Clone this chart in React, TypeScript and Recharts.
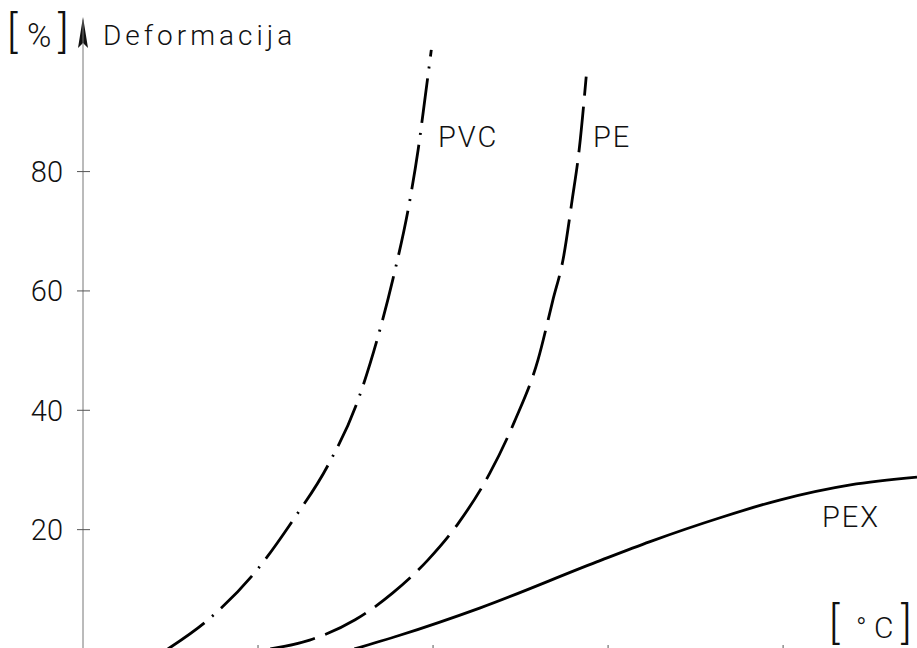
import React from 'react';
import {LineChart, Line, XAxis, YAxis, Customized} from 'recharts';

// deformation [%] vs temperature
const pvcTemp = [9.7, 14.3, 19.8, 24.0, 28.0, 31.3, 33.7, 35.4, 37.4, 38.3, 39.1, 39.8];
const pvcDeform = [0, 4.9, 13.1, 21.6, 30.8, 41.2, 52.3, 61.9, 75.6, 83.7, 92.5, 100.4];

const peTemp = [21.4, 25.9, 31.1, 35.4, 39.4, 42.9, 46.5, 49.3, 52.0, 53.7, 54.9, 55.9, 56.7, 57.5];
const peDeform = [0, 1.5, 4.9, 9.4, 14.9, 21.1, 29.5, 38.1, 48.5, 58.5, 65.6, 75.3, 83.7, 95.9];

const pexTemp = [31.0, 36.2, 45.4, 58.7, 64.8, 72.8, 79.7, 87.7, 95.3];
const pexDeform = [0, 2.3, 6.9, 14.6, 18.0, 22.0, 25.0, 27.5, 28.8];

const yTicks = [20, 40, 60, 80];
const xTicks = [20, 40, 60, 80];

const toPoints = (t: number[], d: number[]) => t.map((v, i) => ({t: v, d: d[i]}));

const FONT = 'Roboto, "DejaVu Sans", sans-serif';

const YTick = (props: any) => {
    const {x, y, payload} = props;
    return <g>
        <line x1={x - 6} x2={x + 7} y1={y} y2={y} stroke="#555" strokeWidth={1}/>
        <text x={x - 20} y={y} dy="0.36em" textAnchor="end" fontFamily={FONT} fontWeight={300}
              fontSize={29} fill="#111">{payload.value}</text>
    </g>;
};

const Overlay = () => {
    const txt = {fontFamily: FONT, fontWeight: 300, fill: '#111'} as const;
    return <g>
        <polygon points="83,17 88,48 83,43 78,48" fill="#111"/>
        <text y={47} {...txt}>
            <tspan x={7} fontSize={44}>[</tspan>
            <tspan x={27} fontSize={33}>%</tspan>
            <tspan x={58} fontSize={44}>]</tspan>
        </text>
        <text x={103} y={45} fontSize={28} letterSpacing={4} {...txt}>Deformacija</text>
        <text x={438} y={147} fontSize={29} letterSpacing={2} {...txt}>PVC</text>
        <text x={593} y={147} fontSize={29} letterSpacing={2} {...txt}>PE</text>
        <text x={822} y={527} fontSize={29} letterSpacing={2} {...txt}>PEX</text>
        <text y={638} {...txt}>
            <tspan x={829} fontSize={44}>[</tspan>
            <tspan x={856} fontSize={28}>°</tspan>
            <tspan x={874} fontSize={30}>C</tspan>
            <tspan x={901} fontSize={44}>]</tspan>
        </text>
    </g>;
};

export default function App() {
    return <div style={{position: 'absolute', left: 0, top: 0, width: 917, height: 648, overflow: 'hidden', background: '#fff'}}>
        <LineChart width={917} height={652} margin={{top: 20, right: 0, left: 0, bottom: 2}}>
            <XAxis type="number" dataKey="t" domain={[0, 95.3]} ticks={xTicks} allowDataOverflow
                   height={1} axisLine={false} tickSize={-4} tickFormatter={() => ''}
                   tickLine={{stroke: '#555'}}/>
            <YAxis type="number" dataKey="d" domain={[0, 105.4]} ticks={yTicks} allowDataOverflow
                   width={83} tickSize={0} tickMargin={0} tickLine={false} tick={YTick}
                   axisLine={{stroke: '#777', strokeWidth: 1}}/>
            <Line data={toPoints(pvcTemp, pvcDeform)} dataKey="d" type="monotone" stroke="#000"
                  strokeWidth={2.8} strokeDasharray="45 10 2 10" dot={false} isAnimationActive={false}/>
            <Line data={toPoints(peTemp, peDeform)} dataKey="d" type="monotone" stroke="#000"
                  strokeWidth={2.8} strokeDasharray="46 11" dot={false} isAnimationActive={false}/>
            <Line data={toPoints(pexTemp, pexDeform)} dataKey="d" type="monotone" stroke="#000"
                  strokeWidth={2.8} dot={false} isAnimationActive={false}/>
            <Customized component={Overlay}/>
        </LineChart>
    </div>;
}
